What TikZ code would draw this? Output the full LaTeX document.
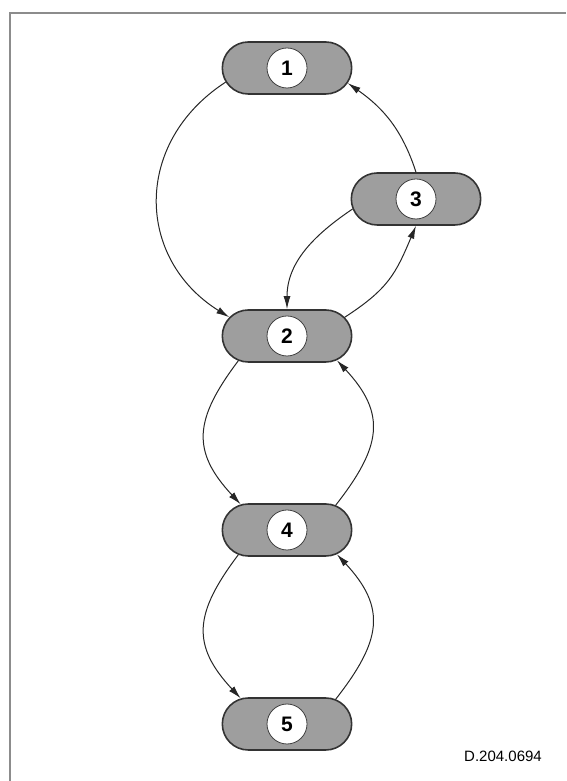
\documentclass[tikz,border=0pt]{standalone}
\usepackage{fontspec}
\setmainfont{Liberation Sans}
\usetikzlibrary{arrows.meta,shapes.misc}

\begin{document}
\begin{tikzpicture}[
  x=1pt, y=1pt,
  stage/.style={draw=black!80, line width=1.6pt, rounded rectangle, minimum width=136pt, minimum height=52pt, fill=black!38, font=\fontsize{21}{24}\selectfont\bfseries,
    path picture={\draw[fill=white, draw=black!75, line width=0.8pt] (path picture bounding box.center) circle (20pt);}},
  arrow/.style={-{Latex[length=13pt,width=7pt]}, line width=1pt, black!85}
]
\useasboundingbox (0,0) rectangle (566,781);

% Frame
\draw[black!45, line width=2.5pt] (10,0) -- (10,768) -- (566,768);

% Stages
\node[stage] (s1) at (287, 713) {1};
\node[stage] (s3) at (416, 582) {3};
\node[stage] (s2) at (287, 445) {2};
\node[stage] (s4) at (287, 251) {4};
\node[stage] (s5) at (287, 57) {5};

% Top part
\draw[arrow] (s1.193) to[out=213, in=148, looseness=1.2] (s2.162);
\draw[arrow] (s3.north) to[out=108, in=-35] (s1.346);
\draw[arrow] (s3.189) to[out=214, in=90] (s2.north);
\draw[arrow] (s2.18) to[out=33, in=247, looseness=1.15] (s3.south);

% Loops
\draw[arrow] (s2.207) to[out=233, in=133, looseness=1.3] (s4.151);
\draw[arrow] (s4.27) to[out=52, in=-47, looseness=1.3] (s2.334);
\draw[arrow] (s4.207) to[out=233, in=133, looseness=1.3] (s5.151);
\draw[arrow] (s5.27) to[out=52, in=-47, looseness=1.3] (s4.334);

% Drawing number
\node[font=\fontsize{15}{18}\selectfont] (code) at (503, 25) {D.204.0694};

\end{tikzpicture}
\end{document}
